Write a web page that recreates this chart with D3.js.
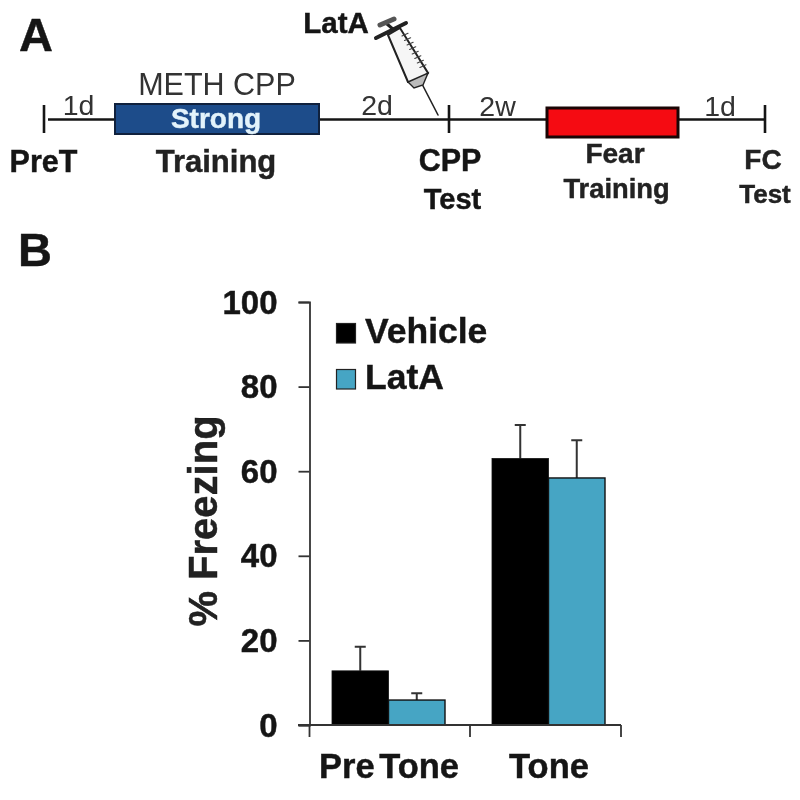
<!DOCTYPE html>
<html><head><meta charset="utf-8">
<script src="https://cdnjs.cloudflare.com/ajax/libs/d3/7.8.5/d3.min.js"></script>
<style>
html,body{margin:0;padding:0;background:#fff}
svg{display:block;filter:blur(0.6px)}
text{font-family:"Liberation Sans",Arial,sans-serif;fill:#151515}
.b{font-weight:700;stroke:#151515;stroke-width:0.45px}
</style></head><body>
<svg id="c" width="800" height="800"></svg>
<script>
// Bar chart data
const groups = ["Pre Tone", "Tone"];
const seriesNames = ["Vehicle", "LatA"];
const vehicle = [12.8, 63.0];
const vehicleErr = [5.7, 7.9];
const latA = [5.9, 58.4];
const latAErr = [1.6, 8.9];
const yTicks = [0, 20, 40, 60, 80, 100];
const colors = ["#000000", "#46a5c4"];
// Timeline stages, in order along the schematic
const stops = ["PreT", "trainStart", "trainEnd", "CPP", "fearStart", "fearEnd", "FC"];
const intervals = ["1d", "2d", "2w", "1d"];

const svg = d3.select("#c");

/* ---------- Panel letters ---------- */
svg.append("text").attr("class","b").attr("x",19).attr("y",51).attr("font-size",47).text("A");
svg.append("text").attr("class","b").attr("x",18).attr("y",266).attr("font-size",47).text("B");

/* ---------- Timeline ---------- */
const tx = d3.scalePoint().domain(stops).range([0,1]);
const tp = d3.scaleLinear().domain(stops.map(s=>tx(s))).range([44,115,319,449,547,678,765]);
const T = s => tp(tx(s));
const tl = svg.append("g");
const lineY = 119.5;
tl.append("line").attr("x1",T("PreT")+4).attr("x2",T("FC")).attr("y1",lineY).attr("y2",lineY)
  .attr("stroke","#151515").attr("stroke-width",2.4);
["PreT","CPP","FC"].forEach(s=>{
  tl.append("line").attr("x1",T(s)).attr("x2",T(s)).attr("y1",105).attr("y2",133)
    .attr("stroke","#151515").attr("stroke-width",2.6);
});
tl.append("rect").attr("x",T("trainStart")).attr("width",T("trainEnd")-T("trainStart"))
  .attr("y",104).attr("height",30).attr("fill","#1d4c8a").attr("stroke","#10213d").attr("stroke-width",2);
tl.append("rect").attr("x",T("fearStart")).attr("width",T("fearEnd")-T("fearStart"))
  .attr("y",108).attr("height",29).attr("fill","#f50b12").attr("stroke","#1a0505").attr("stroke-width",3);

const lab = (g,t,x,y,size,bold,fill)=>{
  const e = g.append("text").attr("x",x).attr("y",y).attr("font-size",size)
  .attr("text-anchor","middle").attr("class",bold?"b":null).style("fill",fill||null).text(t);
  if(fill && bold) e.style("stroke",fill);
  return e;
};

lab(tl,"METH CPP",(T("trainStart")+T("trainEnd"))/2,95,30.5,false,"#333");
lab(tl,"Strong",216,128,28,true,"#e3f3fb");
lab(tl,"PreT",43.5,172,30.5,true);
lab(tl,"Training",216,172,31,true,"#222");
lab(tl,"CPP",450,171,30.5,true);
lab(tl,"Test",452.5,209,29,true);
lab(tl,"Fear",615,163,28,true,"#222");
lab(tl,"Training",616.5,198,27.3,true,"#222");
lab(tl,"FC",763,169,28,true,"#222");
lab(tl,"Test",765,203,26,true,"#222");
lab(tl,"LatA",336,33,29.5,true);
const iv = [[78.5,115],[377,115],[497.5,116],[720,116]];
intervals.forEach((t,i)=>lab(tl,t,iv[i][0],iv[i][1],28.5,false,"#333"));

/* ---------- Syringe (schematic icon) ---------- */
const sy = svg.append("g").attr("fill","none").attr("stroke","#222").attr("stroke-linecap","round");
sy.append("path").attr("d","M422 84L438 115").attr("stroke-width",1.6);
sy.append("path").attr("d","M388 35L408 82Q418 84 428 73L400 28Z").attr("fill","#f6f6f6").attr("stroke-width",2);
sy.append("path").attr("d","M376 38L406 23").attr("stroke-width",4);
sy.append("path").attr("d","M394 30L387 24").attr("stroke-width",3);
sy.append("path").attr("d","M380 25L394 19").attr("stroke-width",5).attr("stroke","#555");
sy.append("path").attr("d","M408 82L428 73L423 85L414 88Z").attr("fill","#bbb").attr("stroke-width",1.4);
d3.range(8).forEach(i=>{
  const k=i/8, x=402+k*20.5, y=36+k*36;
  sy.append("line").attr("x1",x).attr("y1",y).attr("x2",x+6).attr("y2",y-2.7).attr("stroke-width",1.2).attr("stroke","#444");
});

/* ---------- Bar chart ---------- */
const y = d3.scaleLinear().domain([0,100]).range([725,302]);
const x0 = d3.scaleBand().domain(groups).range([308.5,628.5]).paddingInner(0).paddingOuter(0);
const x1 = d3.scaleBand().domain(seriesNames).range([x0.bandwidth()/2-56.5,x0.bandwidth()/2+56.5]);
const xEdges = d3.scaleLinear().domain([0,1,2]).range([309.5,470,621]);

const ax = svg.append("g").attr("transform","translate(309.5,0)")
  .call(d3.axisLeft(y).tickValues(yTicks).tickSize(11).tickPadding(21).tickFormat(d3.format("d")));
ax.selectAll("path,line").attr("stroke","#333").attr("stroke-width",1.8);
ax.selectAll("text").attr("class","b").attr("font-size",33).attr("font-family",null).attr("dy",11).style("fill","#151515");

const series = [vehicle, latA];
const errs = [vehicleErr, latAErr];
seriesNames.forEach((name,si)=>{
  const g = svg.append("g");
  const xPos = i => x0(groups[i])+x1(name);
  // error bars first so the bars overlap the stems
  g.selectAll(".e").data(series[si]).join("path").attr("class","e")
    .attr("fill","none").attr("stroke","#333").attr("stroke-width",2)
    .attr("d",(d,i)=>{
      const cx = xPos(i)+x1.bandwidth()/2, top = y(d+errs[si][i]);
      return `M${cx},${y(d)}V${top}M${cx-5.5},${top}H${cx+5.5}`;
    });
  g.selectAll("rect").data(series[si]).join("rect")
    .attr("x",(d,i)=>xPos(i)).attr("width",x1.bandwidth())
    .attr("y",d=>y(d)).attr("height",d=>y(0)-y(d))
    .attr("fill",colors[si]).attr("stroke","#111").attr("stroke-width",si?1.4:0.8);
});

// x axis baseline and boundary ticks
const xa = svg.append("g");
xa.append("line").attr("x1",298).attr("x2",xEdges(2)).attr("y1",y(0)).attr("y2",y(0)).attr("stroke","#333").attr("stroke-width",2);
xa.selectAll(".t").data([0,1,2]).join("line").attr("class","t")
  .attr("x1",d=>xEdges(d)).attr("x2",d=>xEdges(d)).attr("y1",y(0)).attr("y2",y(0)+12)
  .attr("stroke","#333").attr("stroke-width",1.8);
groups.forEach(g=>{
  svg.append("text").attr("class","b").attr("x",x0(g)+x0.bandwidth()/2+0.5).attr("y",778)
    .attr("text-anchor","middle").attr("font-size",34.5).attr("word-spacing",-5).text(g);
});

// y title
svg.append("text").attr("class","b").attr("transform","translate(217,521) rotate(-90)")
  .attr("text-anchor","middle").attr("font-size",40).style("fill","#222").text("% Freezing");

// legend
const legRowY = d3.scalePoint().domain(seriesNames).range([343,389]);
seriesNames.forEach((name,i)=>{
  svg.append("rect").attr("x",336.5).attr("y",legRowY(name)-19.5).attr("width",19).attr("height",19.5)
    .attr("fill",colors[i]).attr("stroke","#222").attr("stroke-width",1.2);
  svg.append("text").attr("class","b").attr("x",365).attr("y",legRowY(name)).attr("font-size",35.5).text(name);
});
</script>
</body></html>
